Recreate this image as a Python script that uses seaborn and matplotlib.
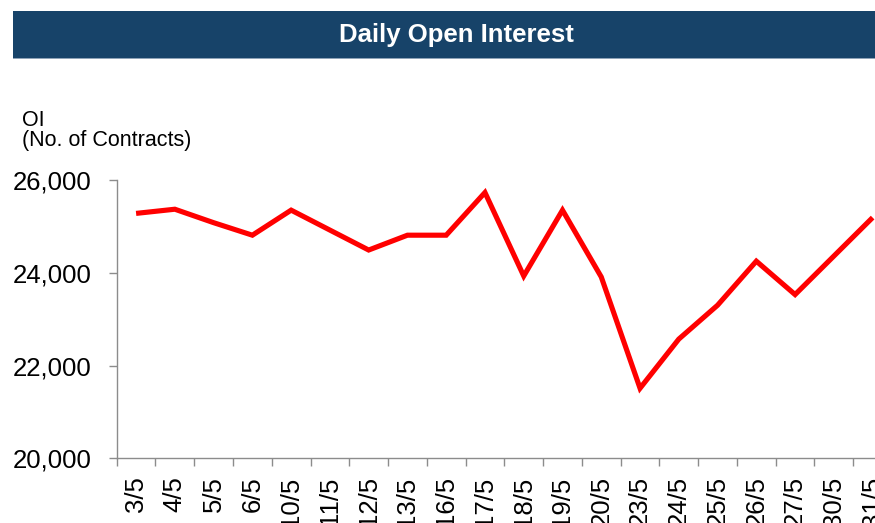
import numpy as np
import pandas as pd
import matplotlib
matplotlib.use("Agg")
import matplotlib.pyplot as plt
from matplotlib.patches import Rectangle
from matplotlib.ticker import FuncFormatter, FixedLocator
import seaborn as sns

dates = ["3/5", "4/5", "5/5", "6/5", "10/5", "11/5", "12/5", "13/5", "16/5", "17/5",
         "18/5", "19/5", "20/5", "23/5", "24/5", "25/5", "26/5", "27/5", "30/5", "31/5"]
open_interest = [25280, 25370, 25080, 24810, 25350, 24920, 24490, 24810, 24810, 25730,
                 23930, 25350, 23910, 21510, 22570, 23300, 24250, 23530, 24360, 25190]
y_ticks = [20000, 22000, 24000, 26000]
title = "Daily Open Interest"
y_label = "OI\n(No. of Contracts)"

sns.set_theme(style="white")
plt.rcParams["font.family"] = ["Liberation Sans", "DejaVu Sans"]

df = pd.DataFrame({"date": dates, "oi": open_interest})

W, H = 875, 523
fig = plt.figure(figsize=(W / 100, H / 100), dpi=100)
fig.patch.set_facecolor("white")

# axes (extends past right edge, as in reference)
left_px, right_px, top_px, bottom_px = 116.7, 892.0, 180.0, 458.3
ax = fig.add_axes([left_px / W, 1 - bottom_px / H,
                   (right_px - left_px) / W, (bottom_px - top_px) / H])
ax.set_facecolor("white")

sns.lineplot(data=df, x="date", y="oi", ax=ax, color="#ff0000", linewidth=3.7,
             sort=False, solid_joinstyle="miter", solid_capstyle="butt")

ax.set_xlim(-0.5, len(dates) - 0.5)
ax.set_ylim(y_ticks[0], y_ticks[-1])
ax.set_xlabel("")
ax.set_ylabel("")

ax.yaxis.set_major_locator(FixedLocator(y_ticks))
ax.yaxis.set_major_formatter(FuncFormatter(lambda v, p: f"{int(v):,}"))

ax.set_xticks(range(len(dates)))
ax.set_xticklabels(dates, rotation=90, va="top", ha="center")
ax.set_xticks(np.arange(-0.5, len(dates), 1.0), minor=True)

for s in ["top", "right"]:
    ax.spines[s].set_visible(False)
for s in ["left", "bottom"]:
    ax.spines[s].set_color("#8c8c8c")
    ax.spines[s].set_linewidth(1.0)

ax.tick_params(axis="y", which="major", direction="out", length=5.5, width=1.0,
               color="#8c8c8c", labelsize=18.5, labelcolor="black", pad=12.5, left=True)
ax.tick_params(axis="x", which="major", length=0, labelsize=18.5, labelcolor="black", pad=13)
ax.tick_params(axis="x", which="minor", direction="out", length=5.5, width=1.0,
               color="#8c8c8c", bottom=True)
ax.grid(False)

# header banner
fig.patches.append(Rectangle((13 / W, 1 - 58.3 / H), 1 - 13 / W, (58.3 - 11) / H,
                             transform=fig.transFigure, facecolor="#174369",
                             edgecolor="none", zorder=0))
fig.patches.append(Rectangle((13 / W, 1 - 59 / H), 1 - 13 / W, 1.0 / H,
                             transform=fig.transFigure, facecolor="#8fa3b8",
                             edgecolor="none", zorder=0))
fig.text(456.5 / W, 1 - 35 / H, title, color="white", fontsize=18.5,
         fontweight="bold", ha="center", va="center")

fig.text(22 / W, 1 - 110 / H, y_label, fontsize=15.5, color="black",
         ha="left", va="top", linespacing=0.95)

fig.savefig("out.png", dpi=100)
